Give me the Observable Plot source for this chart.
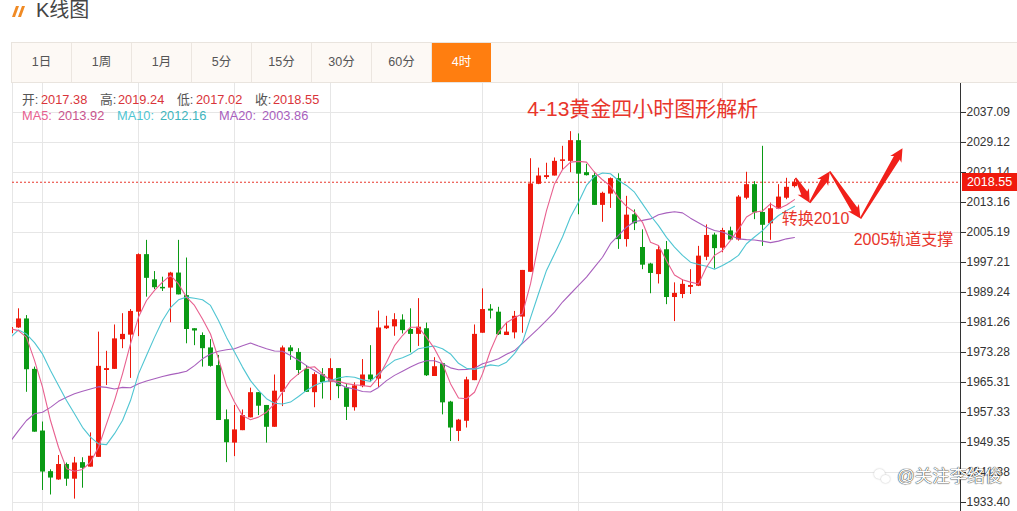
<!DOCTYPE html>
<html><head><meta charset="utf-8">
<script src="https://cdn.jsdelivr.net/npm/d3@7"></script>
<script src="https://cdn.jsdelivr.net/npm/@observablehq/plot@0.6"></script>
<style>
html,body{margin:0;padding:0;background:#fff;width:1017px;height:511px;overflow:hidden;font-family:"Liberation Sans","Noto Sans CJK SC",sans-serif}
.abs{position:absolute;white-space:nowrap}
#tabs{position:absolute;left:11px;top:42px;width:1006px;height:41px;background:#fdf9f5;border-top:1px solid #e9e4de;border-bottom:1px solid #e9e4de;border-left:1px solid #e9e4de;box-sizing:border-box;display:flex}
#tabs div{width:60px;box-sizing:border-box;border-right:1px solid #ece6e0;text-align:center;line-height:38px;font-size:12.5px;color:#555}
#tabs div.on{background:#ff7e10;color:#fff;border-right:none;width:59px}
#chart{position:absolute;left:0;top:83px}
</style></head><body>
<div class="abs" style="left:14px;top:6px;width:3px;height:11px;background:#f08a24;transform:skewX(-20deg)"></div>
<div class="abs" style="left:20px;top:6px;width:3px;height:11px;background:#f08a24;transform:skewX(-20deg)"></div>
<div class="abs" id="title" style="left:36px;top:-3px;font-size:20px;line-height:26px;color:#444">K线图</div>
<div id="tabs"></div>
<div id="chart"></div>
<div id="head"></div>
<div class="abs" id="tag" style="left:962px;top:173px;width:55px;height:18px;line-height:18px;background:#f01a0d;color:#fff;font-size:12.5px;text-align:center"></div>
<div class="abs" style="left:874px;top:469px;width:11px;height:10px;border-radius:50%;background:#fff;box-shadow:0 0 2px #bbb"></div>
<div class="abs" style="left:881px;top:475px;width:9px;height:8px;border-radius:50%;background:#fff;box-shadow:0 0 2px #bbb"></div>
<div class="abs" id="mark" style="left:897px;top:465px;font-size:17.5px;line-height:22px;color:#fff;text-shadow:0 0 1px #222,0 0 1px #222">@关注李络俊</div>
<script>
const tabNames = ["1日","1周","1月","5分","15分","30分","60分","4时"];
const tickValues = [1933.40,1941.38,1949.35,1957.33,1965.31,1973.28,1981.26,1989.24,1997.21,2005.19,2013.16,2021.14,2029.12,2037.09];
const gridIndex = [3,15,27,39,58,70,88];

const opens = [1978.3,1979.8,1982.2,1968.8,1952.4,1941.6,1939.4,1943.5,1939.6,1944.0,1942.8,1945.4,1968.5,1968.8,1976.7,1977.9,1984.0,1999.3,1992.6,1990.6,1990.4,1994.4,1988.4,1979.6,1977.8,1974.5,1969.8,1955.4,1949.2,1952.5,1955.9,1962.6,1959.2,1953.4,1962.7,1974.5,1973.3,1968.8,1962.6,1967.4,1965.4,1969.0,1963.9,1958.6,1964.2,1967.3,1966.2,1979.6,1980.1,1981.9,1979.4,1978.1,1979.6,1966.9,1970.3,1960.1,1952.3,1955.0,1965.8,1978.4,1984.8,1984.0,1977.8,1978.5,1982.7,1994.6,2018.0,2019.8,2020.2,2024.1,2024.1,2029.6,2021.1,2020.3,2012.4,2015.4,2019.5,2003.3,2009.9,2001.2,1996.8,1994.0,2000.6,1987.9,1988.7,1990.6,1990.9,1998.6,2004.5,2001.0,2005.6,2003.2,2014.3,2017.9,2010.5,2007.5,2011.4,2014.3,2017.38];
const closes = [1979.9,1982.2,1968.7,1952.1,1941.5,1939.9,1943.5,1939.6,1943.9,1942.5,1945.7,1969.6,1969.0,1976.9,1978.1,1984.2,1999.3,1993.0,1990.5,1990.2,1994.4,1988.6,1979.4,1979.0,1974.3,1969.6,1955.2,1949.3,1952.7,1956.5,1962.6,1959.0,1953.4,1963.0,1974.5,1973.5,1968.5,1962.7,1967.4,1965.3,1969.0,1964.2,1958.7,1964.4,1967.3,1966.0,1979.8,1980.3,1982.0,1979.1,1978.1,1980.0,1967.1,1969.5,1959.9,1953.2,1955.3,1966.0,1978.1,1984.7,1984.3,1978.0,1978.7,1982.9,1995.1,2018.1,2020.2,2020.3,2024.1,2024.5,2029.6,2020.7,2020.3,2012.4,2015.6,2019.5,2003.3,2009.8,2007.5,1996.5,1994.3,2000.6,1987.9,1989.0,1991.4,1991.1,1998.9,2004.4,2000.9,2005.7,2003.2,2014.6,2017.9,2010.4,2007.1,2011.5,2014.6,2017.2,2018.55];
const highs = [1980.5,1984.9,1983.1,1969.4,1954.8,1942.1,1945.9,1943.9,1945.4,1945.3,1951.9,1978.7,1973.6,1980.6,1983.6,1984.7,1999.5,2003.1,1994.8,1993.3,1994.6,2003.1,1998.4,1979.6,1978.5,1976.7,1972.5,1958.0,1959.2,1958.0,1963.8,1962.6,1959.2,1967.3,1975.0,1975.1,1974.3,1969.8,1967.9,1969.0,1971.6,1969.0,1964.8,1965.2,1971.4,1975.1,1984.3,1982.9,1983.6,1983.3,1984.9,1987.6,1981.1,1971.9,1970.4,1960.3,1955.5,1966.7,1980.6,1990.2,1986.0,1985.3,1981.3,1984.2,1995.1,2024.8,2022.3,2023.6,2025.0,2028.1,2032.0,2031.4,2023.3,2021.2,2015.9,2019.7,2020.8,2014.8,2011.2,2005.9,1997.0,2001.7,2002.8,1991.8,1992.6,1995.3,2001.5,2007.2,2005.0,2006.3,2006.6,2015.0,2021.2,2018.7,2028.1,2013.0,2017.9,2019.6,2019.24];
const lows = [1978.1,1979.7,1962.7,1952.1,1936.6,1935.4,1939.3,1937.7,1934.3,1937.2,1942.8,1945.4,1964.5,1968.8,1974.3,1966.4,1977.5,1988.0,1990.0,1989.5,1981.2,1988.6,1975.6,1975.1,1969.4,1969.4,1955.2,1944.0,1945.6,1952.5,1955.9,1956.5,1949.2,1953.4,1958.9,1971.2,1967.2,1962.7,1958.6,1960.9,1960.5,1961.0,1955.2,1957.7,1963.9,1965.4,1964.0,1979.4,1977.6,1978.2,1973.2,1974.9,1966.9,1966.9,1956.7,1949.6,1949.6,1953.2,1965.8,1978.4,1982.2,1977.8,1977.8,1976.9,1978.4,1994.6,2017.9,2019.3,2020.2,2021.7,2021.1,2009.9,2020.2,2012.4,2007.9,2011.6,2000.7,2001.3,2005.7,1995.3,1988.9,1991.5,1986.0,1981.5,1987.6,1988.7,1990.8,1997.7,1995.5,1999.8,2003.1,2002.9,2013.9,2008.6,2001.5,2003.1,2011.3,2013.9,2017.02];

const ma5 = [1979.6,1979.1,1977.3,1971.2,1964.1,1955.2,1948.1,1942.4,1941.7,1942.2,1944.1,1948.1,1954.3,1960.5,1967.6,1975.6,1982.7,1987.1,1989.8,1992.0,1993.8,1991.5,1988.0,1985.8,1982.2,1978.2,1971.6,1964.5,1960.1,1956.5,1955.4,1956.1,1957.4,1959.6,1962.7,1965.8,1967.6,1969.2,1969.5,1967.6,1965.8,1965.6,1965.0,1964.7,1964.5,1964.2,1966.7,1970.7,1975.1,1977.8,1980.0,1980.0,1977.3,1974.3,1970.3,1965.0,1961.2,1961.0,1962.7,1967.6,1973.8,1978.7,1981.2,1982.5,1983.6,1991.5,2002.2,2011.0,2018.1,2021.9,2023.9,2024.1,2023.9,2021.2,2019.2,2017.5,2014.4,2012.1,2010.6,2007.9,2002.6,2001.7,1997.7,1993.9,1992.6,1992.0,1991.5,1996.0,1999.1,2000.4,2003.1,2006.0,2009.3,2010.6,2010.9,2012.8,2011.5,2012.5,2013.92];
const ma10 = [1977.3,1979.3,1978.2,1975.9,1972.9,1968.5,1964.5,1960.5,1957.0,1953.4,1950.8,1949.0,1948.8,1951.7,1955.2,1960.5,1967.6,1972.5,1977.3,1981.8,1985.2,1987.3,1988.0,1987.7,1987.3,1985.8,1981.8,1977.3,1973.4,1969.4,1965.8,1963.2,1961.0,1959.8,1959.6,1960.1,1961.6,1963.2,1964.5,1965.4,1965.8,1966.5,1966.9,1966.7,1966.0,1965.6,1967.6,1969.6,1971.2,1971.9,1972.8,1974.3,1974.7,1975.0,1974.3,1972.9,1970.4,1969.1,1968.8,1969.4,1970.0,1969.7,1970.7,1973.0,1976.0,1982.5,1988.9,1995.1,1999.5,2004.0,2009.3,2013.2,2017.7,2020.1,2021.0,2020.8,2019.0,2017.7,2015.9,2012.8,2009.7,2007.0,2003.9,2001.3,1999.1,1997.3,1996.7,1996.2,1995.4,1996.4,1997.6,1999.1,2002.2,2004.0,2005.7,2007.9,2009.7,2011.0,2012.16];
const ma20 = [1949.7,1952.5,1955.2,1957.0,1957.4,1958.7,1960.3,1961.4,1962.3,1963.0,1963.6,1964.2,1964.0,1963.6,1964.0,1963.9,1965.0,1965.7,1966.3,1966.9,1967.4,1967.8,1968.3,1969.8,1971.6,1972.9,1973.6,1974.0,1974.3,1975.1,1975.8,1975.0,1974.3,1973.7,1973.6,1972.5,1971.2,1969.8,1968.5,1967.2,1966.1,1965.0,1964.0,1963.6,1962.9,1962.8,1964.0,1965.8,1967.2,1968.3,1969.4,1970.4,1971.1,1971.1,1970.3,1969.2,1968.7,1968.8,1969.1,1970.3,1970.9,1971.6,1972.8,1973.8,1975.7,1977.7,1979.7,1981.8,1984.0,1986.7,1988.9,1991.1,1993.3,1996.0,1998.6,2002.2,2004.4,2006.6,2008.1,2008.4,2008.8,2009.9,2010.4,2010.7,2010.4,2009.0,2007.8,2006.6,2005.7,2005.3,2004.4,2003.5,2003.3,2003.2,2002.9,2002.5,2002.9,2003.5,2003.86];

const pathIndex = [97.125,98.9,101.4,105.25,110.5];
const pathPrice = [2019.7,2013.1,2021.4,2008.9,2027.6];
const lastPrice = 2018.55;
const notes = [
  {text:"4-13黄金四小时图形解析", i:63.6, p:2037.9, size:21},
  {text:"转换2010", i:95.4, p:2008.9, size:16},
  {text:"2005轨道支撑", i:104.4, p:2003.1, size:16}
];
const quote = [
  {x:22,y:94,t:"开:",c:"#555"},{x:41,y:94,t:"2017.38",c:"#d9343a"},
  {x:100,y:94,t:"高:",c:"#555"},{x:118,y:94,t:"2019.24",c:"#d9343a"},
  {x:177,y:94,t:"低:",c:"#555"},{x:196,y:94,t:"2017.02",c:"#d9343a"},
  {x:255,y:94,t:"收:",c:"#555"},{x:273,y:94,t:"2018.55",c:"#d9343a"},
  {x:22,y:110,t:"MA5:",c:"#e8608f"},{x:58,y:110,t:"2013.92",c:"#c9558e"},
  {x:117,y:110,t:"MA10:",c:"#4fc5d2"},{x:160,y:110,t:"2012.16",c:"#40b5bd"},
  {x:219,y:110,t:"MA20:",c:"#a860bd"},{x:262,y:110,t:"2003.86",c:"#a860bd"}
];

const RED="#ee1a0c", GREEN="#0a9a14", GRID="#e6e6e6", NOTE="#e8352b", ARROW="#f1201a";
const candles = opens.map((o,k)=>({i:k-1,o,c:closes[k],h:highs[k],l:lows[k]}));
const up = candles.filter(d=>d.c>=d.o), down = candles.filter(d=>d.c<d.o);
const series = a => a.map((v,k)=>({i:k-1,v}));

// tapered hand-drawn arrows built from the path's turning points
const PXX=8, PXY=428/(2044.80-1931.01);
const arrowPts = [];
pathIndex.slice(1).forEach((_,s)=>{
  const ax=pathIndex[s]*PXX, ay=-pathPrice[s]*PXY, bx=pathIndex[s+1]*PXX, by=-pathPrice[s+1]*PXY;
  const L=Math.hypot(bx-ax,by-ay), ux=(bx-ax)/L, uy=(by-ay)/L;
  [[0,.8],[L-11,3.4],[L-13,6.5],[L,0],[L-13,-6.5],[L-11,-3.4],[0,-.8]].forEach(([t,n])=>{
    arrowPts.push({seg:s,x:(ax+ux*t-uy*n)/PXX,y:-(ay+uy*t+ux*n)/PXY});
  });
});

document.getElementById("tabs").innerHTML = tabNames.map((t,k)=>`<div class="${k==7?"on":""}">${t}</div>`).join("");
document.getElementById("head").innerHTML = quote.map(q=>`<div class="abs" style="left:${q.x}px;top:${q.y-1}px;font-size:12.8px;line-height:14px;color:${q.c}">${q.t}</div>`).join("");
document.getElementById("tag").textContent = lastPrice.toFixed(2);

const chart = Plot.plot({
  width:1017, height:428,
  marginLeft:12, marginRight:57, marginTop:0, marginBottom:0,
  x:{domain:[-0.75,117.75], axis:null},
  y:{domain:[1931.01,2044.80]},
  style:{fontFamily:'"Liberation Sans","Noto Sans CJK SC",sans-serif',background:"transparent",overflow:"visible"},
  marks:[
    Plot.ruleY(tickValues,{stroke:GRID,strokeWidth:1}),
    Plot.ruleX(gridIndex,{stroke:GRID,strokeWidth:1}),
    Plot.ruleX([-0.75],{stroke:GRID,strokeWidth:1}),
    Plot.ruleY([lastPrice],{stroke:"#e8352b",strokeWidth:1,strokeDasharray:"2,2"}),
    Plot.ruleX(up,{x:"i",y1:"l",y2:"h",stroke:RED,strokeWidth:1,clip:true}),
    Plot.ruleX(down,{x:"i",y1:"l",y2:"h",stroke:GREEN,strokeWidth:1,clip:true}),
    Plot.rect(up,{x1:d=>d.i-.25,x2:d=>d.i+.375,y1:"o",y2:"c",fill:RED,clip:true}),
    Plot.rect(down,{x1:d=>d.i-.25,x2:d=>d.i+.375,y1:"o",y2:"c",fill:GREEN,clip:true}),
    Plot.line(series(ma20),{x:"i",y:"v",stroke:"#a860bd",strokeWidth:1.1,clip:true}),
    Plot.line(series(ma10),{x:"i",y:"v",stroke:"#4fc5d2",strokeWidth:1.1,clip:true}),
    Plot.line(series(ma5),{x:"i",y:"v",stroke:"#e8608f",strokeWidth:1.1,clip:true}),
    Plot.line(arrowPts,{x:"x",y:"y",z:"seg",fill:ARROW,stroke:"none"}),
    Plot.text(notes,{x:"i",y:"p",text:"text",fontSize:"size",textAnchor:"start",fill:NOTE}),
    Plot.ruleX([117.75],{stroke:"#333",strokeWidth:1}),
    Plot.axisY({anchor:"right",ticks:tickValues,tickFormat:d=>d.toFixed(2),tickSize:5,tickPadding:1,label:null,fontSize:12,color:"#333"})
  ]
});
document.getElementById("chart").appendChild(chart);
</script>
</body></html>
